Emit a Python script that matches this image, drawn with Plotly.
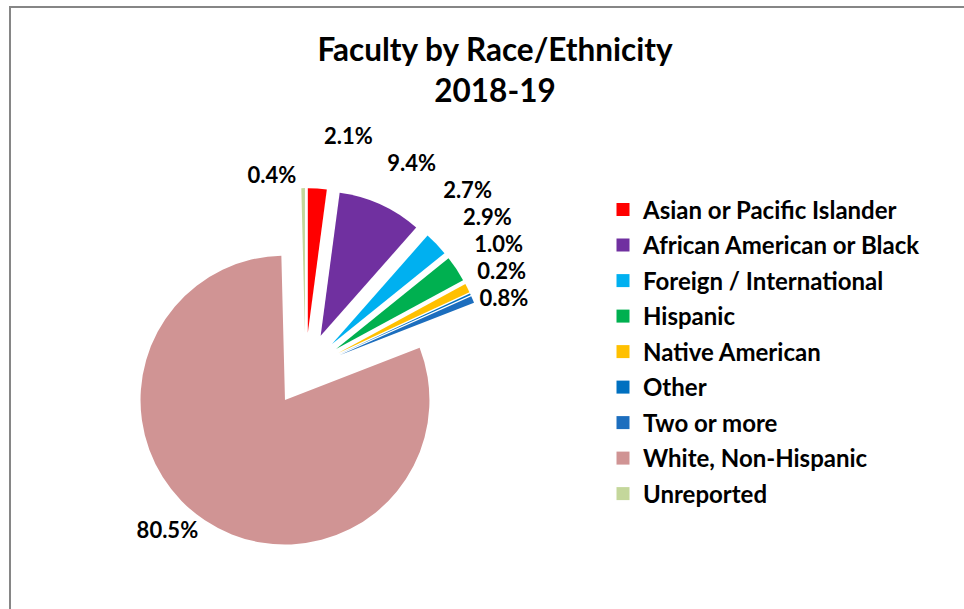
import plotly.graph_objects as go

categories = ["Asian or Pacific Islander", "African American or Black", "Foreign / International",
              "Hispanic", "Native American", "Other", "Two or more", "White, Non-Hispanic", "Unreported"]
values = [2.1, 9.4, 2.7, 2.9, 1.0, 0.2, 0.8, 80.5, 0.4]
colors = ["#FF0000", "#7030A0", "#00B0F0", "#00B050", "#FFC000", "#0070C0", "#1C6EBE", "#D09494", "#C4D79B"]

W, H = 964, 609
FONT = "Lato"

fig = go.Figure()
fig.add_trace(go.Pie(
    labels=categories, values=values, sort=False, direction="clockwise", rotation=0,
    marker=dict(colors=colors, line=dict(width=0)),
    pull=[0.255] * len(values),
    texttemplate="%{percent:.1%}", textposition="outside",
    textfont=dict(family=FONT, size=22, color="#000000", weight="bold"),
    showlegend=False, hoverinfo="label+percent",
    domain=dict(x=[124.1 / W, 486.7 / W], y=[(H - 550.7) / H, (H - 188.1) / H]),
))

# legend entries (one per category)
for i, (c, col) in enumerate(zip(categories, colors)):
    fig.add_trace(go.Scatter(
        x=[None], y=[None], mode="markers", name=c, legendgroup=str(i),
        marker=dict(symbol="square", size=13, color=col),
    ))

fig.update_layout(
    width=W, height=H, autosize=False,
    margin=dict(l=0, r=0, t=0, b=0, autoexpand=False),
    paper_bgcolor="white", plot_bgcolor="white",
    xaxis=dict(visible=False), yaxis=dict(visible=False),
    title=dict(text="Faculty by Race/Ethnicity<br>2018-19", x=495 / W, xanchor="center",
               y=1 - 61 / H, yanchor="top",
               font=dict(family=FONT, size=31.5, color="#000000", weight="bold")),
    legend=dict(x=603 / W, y=1 - 187.5 / H, xanchor="left", yanchor="top",
                font=dict(family=FONT, size=24, color="#000000", weight="bold"),
                tracegroupgap=1.3, bgcolor="rgba(0,0,0,0)", itemclick=False),
    shapes=[
        dict(type="line", xref="paper", yref="paper", x0=9 / W, x1=1, y0=1 - 7 / H, y1=1 - 7 / H,
             line=dict(color="#868686", width=2)),
        dict(type="line", xref="paper", yref="paper", x0=10 / W, x1=10 / W, y0=0, y1=1 - 6 / H,
             line=dict(color="#868686", width=2)),
    ],
)

post = ("document.body.style.margin='0';"
        "var s=document.createElement('style');"
        "s.innerHTML='path.textline{display:none !important;}';"
        "document.head.appendChild(s);")
fig.write_html("out.html", post_script=post,
               config={"responsive": False, "displayModeBar": False})
